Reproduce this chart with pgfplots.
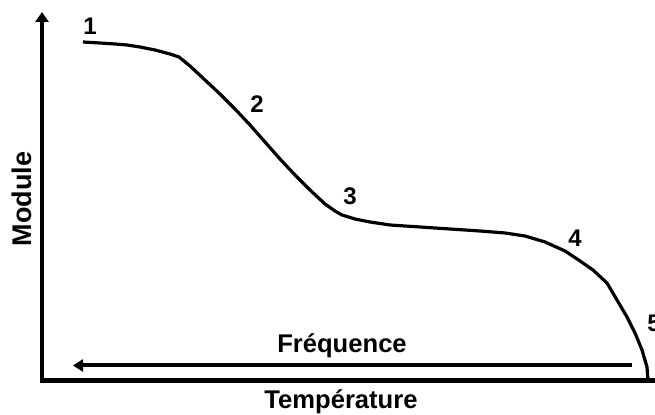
\documentclass[border=0pt]{standalone}
\usepackage{pgfplots}
\pgfplotsset{compat=1.18}
\usepackage{fontspec}
\setmainfont{Liberation Sans}
\usetikzlibrary{arrows.meta}
\begin{document}
\begin{tikzpicture}
\begin{axis}[
  scale only axis, width=327.5pt, height=207.5pt,
  xmin=0, xmax=655, ymin=0, ymax=415, y dir=reverse,
  hide axis, clip=false,
]
% y axis with arrow
\addplot[black, line width=2pt, -{Triangle[width=6.5pt,length=5pt]}] coordinates {(42,383) (42,12)};
% x axis
\addplot[black, line width=2.4pt] coordinates {(40,380.5) (655,380.5)};
% Frequence arrow
\addplot[black, line width=2pt, -{Triangle[width=6pt,length=5pt]}] coordinates {(632,365.5) (73,365.5)};
% curve
\addplot[black, line width=1.6pt, line join=round] coordinates {
(83,42) (100,43) (115,44) (127,45) (140,47) (155,50) (170,54) (179,57)
(190,66) (205,80) (220,94) (235,109) (250,125) (265,142) (280,159)
(295,175) (310,190) (325,204) (335,211) (342,215) (355,219) (370,222)
(390,225) (420,227) (450,229) (480,231) (505,233) (525,236) (545,242) (565,251)
(580,261) (593,270) (607,283) (617,300) (627,317) (635,333) (642,350) (647,367) (648,381)
};
\node[font=\fontsize{12}{12}\selectfont\bfseries] at (axis cs:90,26) {1};
\node[font=\fontsize{12}{12}\selectfont\bfseries] at (axis cs:257,104) {2};
\node[font=\fontsize{12}{12}\selectfont\bfseries] at (axis cs:350,196) {3};
\node[font=\fontsize{12}{12}\selectfont\bfseries] at (axis cs:575,238) {4};
\node[font=\fontsize{12}{12}\selectfont\bfseries, anchor=west, inner sep=0pt] at (axis cs:647,323) {5};
\node[font=\fontsize{12.8}{13}\selectfont\bfseries] at (axis cs:342,346) {Fréquence};
\node[font=\fontsize{12.8}{13}\selectfont\bfseries] at (axis cs:341,402) {Température};
\node[font=\fontsize{13.5}{14}\selectfont\bfseries, rotate=90] at (axis cs:22,199) {Module};
\coordinate (bl) at (axis cs:0,415);
\coordinate (tr) at (axis cs:655,0);
\end{axis}
\pgfresetboundingbox
\path[use as bounding box] (bl) rectangle (tr);
\end{tikzpicture}
\end{document}
